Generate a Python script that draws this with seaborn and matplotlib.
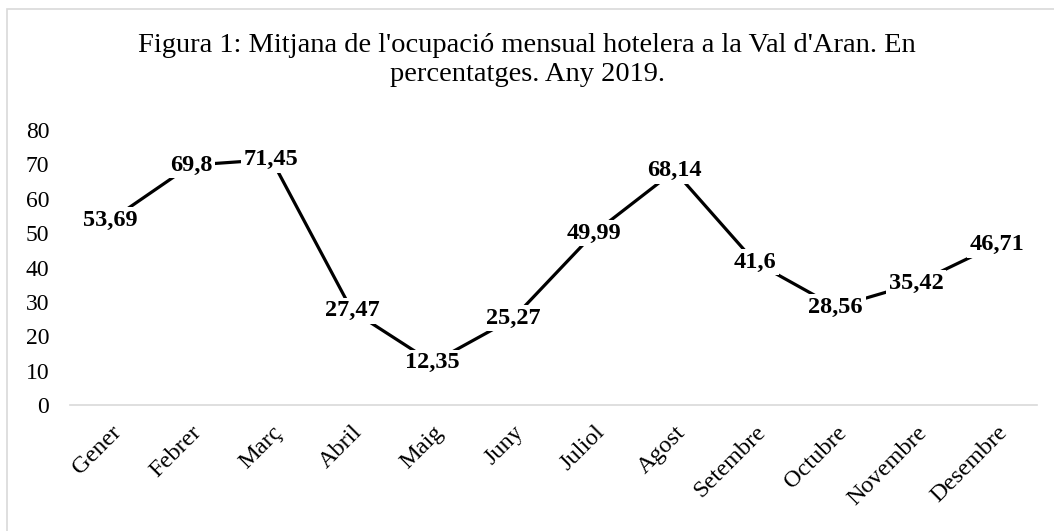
import numpy as np
import pandas as pd
import seaborn as sns
import matplotlib.pyplot as plt
from matplotlib.patches import Rectangle

# Data
months = ['Gener', 'Febrer', 'Març', 'Abril', 'Maig', 'Juny', 'Juliol',
          'Agost', 'Setembre', 'Octubre', 'Novembre', 'Desembre']
occupancy = [53.69, 69.8, 71.45, 27.47, 12.35, 25.27, 49.99,
             68.14, 41.6, 28.56, 35.42, 46.71]
y_ticks = [0, 10, 20, 30, 40, 50, 60, 70, 80]

df = pd.DataFrame({'pos': np.arange(len(months)), 'Mes': months, 'Ocupacio': occupancy})

sns.set_style("white")
plt.rcParams['font.family'] = ['Liberation Serif', 'DejaVu Serif']
plt.rcParams['text.color'] = 'black'
plt.rcParams['xtick.color'] = 'black'
plt.rcParams['ytick.color'] = 'black'

fig = plt.figure(figsize=(10.54, 5.31), dpi=100)
ax = fig.add_axes([0.0664, 0.237, 0.9176, 0.518])

sns.lineplot(x='pos', y='Ocupacio', data=df, color='black', linewidth=2.3, ax=ax)

# data labels with white background, centred on the points
for x, v in zip(df['pos'], df['Ocupacio']):
    ax.text(x, v, f"{v:g}".replace('.', ','), ha='center', va='center',
            fontsize=17.5, fontweight='bold', color='black',
            bbox=dict(facecolor='white', edgecolor='none', pad=2), zorder=5)

ax.set_xlim(-0.5, len(months) - 0.5)
ax.set_ylim(0, 80)
ax.set_yticks(y_ticks)
ax.set_yticklabels([str(t) for t in y_ticks], fontsize=17)
ax.tick_params(axis='y', length=0, pad=15)

# category boundaries as ticks, labels at the centres
ax.set_xticks(np.arange(-0.5, len(months), 1.0))
ax.set_xticklabels([])
ax.tick_params(axis='x', which='major', length=6, color='#d9d9d9', width=1.2)
ax.set_xticks(np.arange(len(months)), minor=True)
ax.set_xticklabels(months, minor=True, rotation=45, ha='right',
                   rotation_mode='anchor', fontsize=17.5)
ax.tick_params(axis='x', which='minor', length=0, pad=12, labelcolor='black')

ax.set_xlabel('')
ax.set_ylabel('')
for s in ['top', 'right', 'left']:
    ax.spines[s].set_visible(False)
ax.spines['bottom'].set_color('#d9d9d9')
ax.spines['bottom'].set_linewidth(1.2)

fig.text(0.5, 0.887, "Figura 1: Mitjana de l'ocupació mensual hotelera a la Val d'Aran. En\npercentatges. Any 2019.",
         ha='center', va='center', fontsize=20.5, linespacing=1.2, color='black')

# chart border (only top and left edges fall inside the image)
fig.patches.append(Rectangle((0.007, -0.05), 1.1, 1.033, transform=fig.transFigure,
                             fill=False, edgecolor='#d9d9d9', linewidth=1.2))

fig.savefig('out.png', dpi=100)
